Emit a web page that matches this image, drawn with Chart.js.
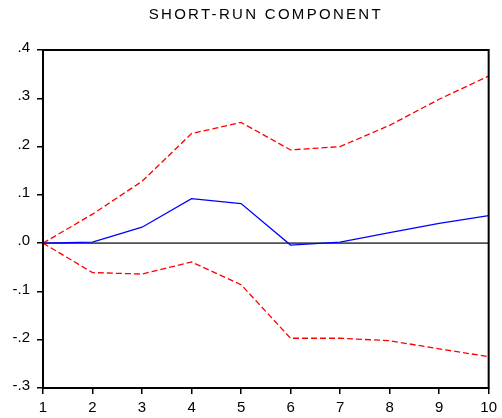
<!DOCTYPE html>
<html>
<head>
<meta charset="utf-8">
<script src="https://cdn.jsdelivr.net/npm/chart.js@4.4.0/dist/chart.umd.min.js"></script>
<style>
  html, body { margin: 0; padding: 0; background: #fff; }
  #wrap { width: 502px; height: 418px; }
</style>
</head>
<body>
<div id="wrap"><canvas id="c" width="502" height="418"></canvas></div>
<script>
const titleText = 'SHORT-RUN COMPONENT';
const periods = ['1', '2', '3', '4', '5', '6', '7', '8', '9', '10'];
const response = [0, 0.002, 0.033, 0.092, 0.082, -0.004, 0.002, 0.022, 0.041, 0.057];
const upperBand = [0, 0.060, 0.128, 0.227, 0.250, 0.193, 0.200, 0.244, 0.298, 0.346];
const lowerBand = [0, -0.061, -0.064, -0.039, -0.086, -0.197, -0.197, -0.202, -0.219, -0.235];
const yMin = -0.3, yMax = 0.4, yStep = 0.1;

const FONT = "'Liberation Sans', Arial, sans-serif";

const framePlugin = {
  id: 'frame',
  afterInit(chart) {
    const tb = chart.titleBlock;
    if (tb) {
      const orig = tb.draw.bind(tb);
      tb.draw = function () {
        const ctx = chart.ctx;
        ctx.save();
        try { ctx.letterSpacing = '2.3px'; } catch (e) {}
        orig();
        ctx.restore();
      };
    }
  },
  beforeDatasetsDraw(chart) {
    const { ctx, chartArea, scales } = chart;
    const y0 = scales.y.getPixelForValue(0);
    ctx.save();
    ctx.strokeStyle = '#505050';
    ctx.lineWidth = 1.6;
    ctx.beginPath();
    ctx.moveTo(chartArea.left, y0);
    ctx.lineTo(chartArea.right, y0);
    ctx.stroke();
    ctx.restore();
  },
  afterDraw(chart) {
    const { ctx, chartArea } = chart;
    ctx.save();
    ctx.strokeStyle = '#000';
    ctx.lineWidth = 2;
    ctx.strokeRect(chartArea.left, chartArea.top, chartArea.right - chartArea.left, chartArea.bottom - chartArea.top);
    ctx.restore();
  }
};

new Chart(document.getElementById('c'), {
  type: 'line',
  data: {
    labels: periods,
    datasets: [
      { label: 'Response', data: response, borderColor: '#0000ff', borderWidth: 1.3, pointRadius: 0, tension: 0, fill: false },
      { label: 'Upper', data: upperBand, borderColor: '#ff0000', borderWidth: 1.3, borderDash: [6, 3], pointRadius: 0, tension: 0, fill: false },
      { label: 'Lower', data: lowerBand, borderColor: '#ff0000', borderWidth: 1.3, borderDash: [6, 3], pointRadius: 0, tension: 0, fill: false }
    ]
  },
  options: {
    responsive: false,
    animation: false,
    devicePixelRatio: 1,
    layout: { padding: { left: 0, right: 8, top: 0, bottom: 0 } },
    plugins: {
      legend: { display: false },
      tooltip: { enabled: false },
      title: {
        display: true,
        text: titleText,
        fullSize: false,
        color: '#000',
        font: { family: FONT, size: 15, weight: 'normal', lineHeight: 1.2 },
        padding: { top: 6, bottom: 26 }
      }
    },
    scales: {
      x: {
        type: 'category',
        offset: false,
        border: { display: false },
        grid: { display: true, drawOnChartArea: false, drawTicks: true, tickLength: 6, color: '#000', lineWidth: 1.5 },
        ticks: { color: '#000', font: { family: FONT, size: 15 }, padding: 5, maxRotation: 0, autoSkip: false },
        afterFit(scale) { scale.height = 30; }
      },
      y: {
        type: 'linear',
        min: yMin,
        max: yMax,
        border: { display: false },
        grid: { display: true, drawOnChartArea: false, drawTicks: true, tickLength: 6, color: '#000', lineWidth: 1.5 },
        ticks: {
          stepSize: yStep,
          color: '#000',
          font: { family: FONT, size: 15 },
          padding: 7,
          labelOffset: -2,
          callback: (v) => Number(v).toFixed(1).replace('0.', '.')
        },
        afterFit(scale) { scale.width = 43; }
      }
    }
  },
  plugins: [framePlugin]
});
</script>
</body>
</html>
